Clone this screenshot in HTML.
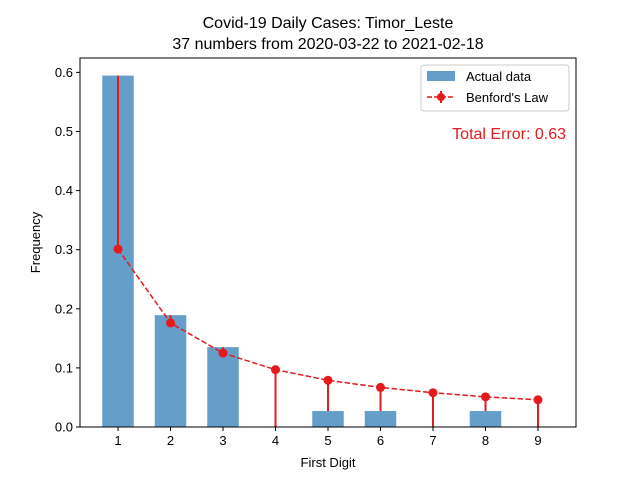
<!DOCTYPE html>
<html><head><meta charset="utf-8"><style>
body{margin:0;background:#fff;}
svg text{font-family:"Liberation Sans","DejaVu Sans",sans-serif;}
</style></head><body>
<svg id="chart" width="640" height="480" xmlns="http://www.w3.org/2000/svg">
<text x="328" y="28" font-size="16" text-anchor="middle">Covid-19 Daily Cases: Timor_Leste</text>
<text x="328" y="49" font-size="16" text-anchor="middle">37 numbers from 2020-03-22 to 2021-02-18</text>
<g id="plot"></g>
<text x="328" y="467" font-size="13" text-anchor="middle">First Digit</text>
<text transform="translate(40,242.5) rotate(-90)" font-size="13" text-anchor="middle">Frequency</text>
<text x="566" y="139" font-size="16" fill="#e41a1c" text-anchor="end">Total Error: 0.63</text>
<g>
<rect x="421" y="65" width="148" height="46" fill="#fff" stroke="#ccc" rx="3"/>
<rect x="427" y="71" width="28" height="10" fill="#4a8dbf" fill-opacity="0.85"/>
<text x="466" y="81" font-size="13">Actual data</text>
<line x1="427" y1="97" x2="455" y2="97" stroke="#e41a1c" stroke-width="1.5" stroke-dasharray="5,2"/>
<line x1="441" y1="91" x2="441" y2="103" stroke="#e41a1c" stroke-width="2"/>
<circle cx="441" cy="97" r="4" fill="#e41a1c"/>
<text x="466" y="102" font-size="13">Benford's Law</text>
</g>
</svg>
<script>
const digits=[1,2,3,4,5,6,7,8,9];
const actual=[0.5946,0.1892,0.1351,0,0.0270,0.0270,0,0.0270,0];
const benford=[0.301,0.176,0.125,0.097,0.079,0.067,0.058,0.051,0.046];
const yTicks=[0,0.1,0.2,0.3,0.4,0.5,0.6];
const yTickLabels=["0.0","0.1","0.2","0.3","0.4","0.5","0.6"];
const L=80,R=576,T=58,B=427;
const xmin=0.276,xmax=9.724,ymax=Math.max(...actual)*1.05;
const X=v=>L+(v-xmin)/(xmax-xmin)*(R-L);
const Y=v=>B-v/ymax*(B-T);
const NS="http://www.w3.org/2000/svg";
const g=document.getElementById('plot');
function mk(t,a){const e=document.createElementNS(NS,t);for(const k in a)e.setAttribute(k,a[k]);g.appendChild(e);return e;}
const bw=X(0.6)-X(0);
digits.forEach((d,i)=>{
 if(actual[i]>0){const r=mk('rect',{x:X(d)-bw/2,y:Y(actual[i]),width:bw,height:B-Y(actual[i]),fill:'#4a8dbf','fill-opacity':0.85});
 
 }
});
digits.forEach((d,i)=>{
 const l=mk('line',{x1:X(d),x2:X(d),y1:Y(benford[i]),y2:Y(actual[i]),stroke:'#e41a1c','stroke-width':2});
 
 
});
const p=mk('polyline',{points:digits.map((d,i)=>X(d)+','+Y(benford[i])).join(' '),fill:'none',stroke:'#e41a1c','stroke-width':1.5,'stroke-dasharray':'5.5,2.4'});


digits.forEach((d,i)=>{
 const c=mk('circle',{cx:X(d),cy:Y(benford[i]),r:4.5,fill:'#e41a1c'});
 
 
});
const fr=mk('rect',{x:L,y:T,width:R-L,height:B-T,fill:'none',stroke:'#000','stroke-width':1});


digits.forEach(d=>{
 mk('line',{x1:X(d),x2:X(d),y1:B,y2:B+4,stroke:'#000'});
 const t=mk('text',{x:X(d),y:B+18,'font-size':13,'text-anchor':'middle'});t.textContent=d;
 
 
});
yTicks.forEach((v,i)=>{
 mk('line',{x1:L-4,x2:L,y1:Y(v),y2:Y(v),stroke:'#000'});
 const t=mk('text',{x:L-7,y:Y(v)+4.5,'font-size':13,'text-anchor':'end'});t.textContent=yTickLabels[i];
 
 
});
</script>
</body></html>
